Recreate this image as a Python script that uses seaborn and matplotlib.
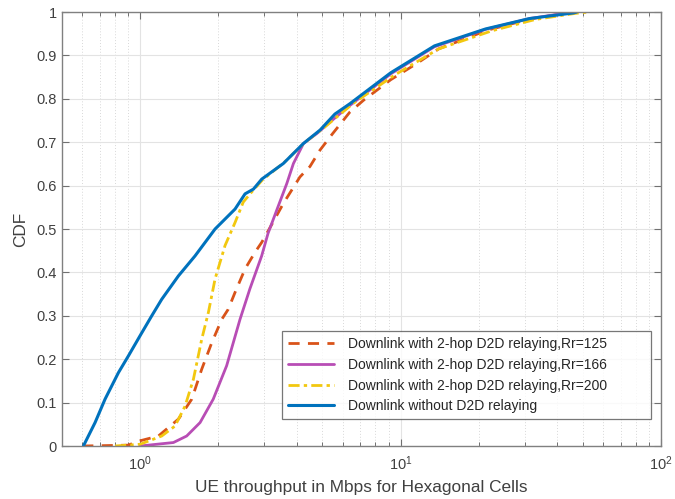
import matplotlib
matplotlib.use("Agg")
import matplotlib.pyplot as plt
from matplotlib.ticker import LogLocator, FixedLocator, NullFormatter
import numpy as np
import pandas as pd
import seaborn as sns

# Empirical CDF of UE throughput (Mbps) for each relaying configuration
rr125_mbps = [0.60, 0.75, 0.90, 1.00, 1.176, 1.404, 1.58, 1.725, 1.885, 2.06, 2.18, 2.316, 2.53,
              2.76, 2.93, 3.10, 3.55, 4.11, 4.49, 4.91, 5.44, 6.40, 7.22, 9.17, 11.65, 14.0, 21.5,
              31.5, 46.0]
rr125_cdf = [0.000, 0.001, 0.002, 0.012, 0.023, 0.062, 0.108, 0.177, 0.238, 0.292, 0.315, 0.354, 0.408,
             0.446, 0.469, 0.495, 0.559, 0.620, 0.644, 0.682, 0.717, 0.770, 0.797, 0.844, 0.883, 0.915,
             0.958, 0.984, 1.000]

rr166_mbps = [1.00, 1.343, 1.51, 1.70, 1.91, 2.15, 2.42, 2.64, 2.93, 3.10, 3.35, 3.66, 3.88,
              4.24, 4.77, 5.50, 6.40, 9.20, 13.5, 21.2, 31.3, 46.0]
rr166_cdf = [0.000, 0.008, 0.023, 0.054, 0.108, 0.185, 0.292, 0.362, 0.438, 0.490, 0.544, 0.605, 0.651,
             0.697, 0.720, 0.752, 0.785, 0.858, 0.920, 0.960, 0.985, 1.000]

rr200_mbps = [0.802, 1.00, 1.211, 1.362, 1.489, 1.603, 1.725, 1.83, 1.941, 2.12, 2.316, 2.49, 2.68,
              2.95, 3.60, 4.30, 5.00, 6.60, 9.50, 14.0, 22.5, 33.0, 47.0, 53.0]
rr200_cdf = [0.000, 0.004, 0.023, 0.046, 0.092, 0.154, 0.246, 0.308, 0.385, 0.462, 0.515, 0.562, 0.585,
             0.613, 0.655, 0.700, 0.730, 0.790, 0.855, 0.915, 0.957, 0.983, 0.997, 1.000]

no_relay_mbps = [0.606, 0.672, 0.734, 0.826, 0.903, 1.00, 1.109, 1.211, 1.404, 1.626, 1.941, 2.316,
                 2.53, 2.725, 2.933, 3.549, 4.236, 4.91, 5.60, 6.40, 9.17, 13.5, 21.2, 31.3, 46.2, 47.5]
no_relay_cdf = [0.000, 0.054, 0.108, 0.169, 0.208, 0.254, 0.300, 0.338, 0.392, 0.438, 0.500, 0.546,
                0.581, 0.592, 0.615, 0.651, 0.697, 0.728, 0.765, 0.789, 0.860, 0.922, 0.961, 0.985,
                0.998, 1.000]

series_labels = ["Downlink with 2-hop D2D relaying,Rr=125",
                 "Downlink with 2-hop D2D relaying,Rr=166",
                 "Downlink with 2-hop D2D relaying,Rr=200",
                 "Downlink without D2D relaying"]

y_ticks = [0, 0.1, 0.2, 0.3, 0.4, 0.5, 0.6, 0.7, 0.8, 0.9, 1.0]
y_tick_labels = ["0", "0.1", "0.2", "0.3", "0.4", "0.5", "0.6", "0.7", "0.8", "0.9", "1"]

sns.set_style("ticks")
plt.rcParams["font.family"] = ["Liberation Sans", "DejaVu Sans"]
plt.rcParams["mathtext.fontset"] = "custom"
plt.rcParams["mathtext.rm"] = "Liberation Sans"
plt.rcParams["mathtext.it"] = "Liberation Sans:italic"

text_color = "#404040"

fig = plt.figure(figsize=(6.75, 4.99), dpi=100)
ax = fig.add_axes([0.0913, 0.1062, 0.888, 0.8697])

styles = [
    dict(color="#D95319", linestyle=(0, (4, 3)), linewidth=2.0),
    dict(color="#B84DB5", linestyle="-", linewidth=2.0),
    dict(color="#F2C80F", linestyle=(0, (4, 1.5, 1.2, 1.5)), linewidth=2.0),
    dict(color="#0072BD", linestyle="-", linewidth=2.2),
]
data = [(rr125_mbps, rr125_cdf), (rr166_mbps, rr166_cdf),
        (rr200_mbps, rr200_cdf), (no_relay_mbps, no_relay_cdf)]

for (xs, ys), lab, st in zip(data, series_labels, styles):
    df = pd.DataFrame({"throughput": xs, "cdf": ys})
    sns.lineplot(data=df, x="throughput", y="cdf", ax=ax, label=lab,
                 estimator=None, sort=False, **st)

ax.set_xscale("log")
ax.set_xlim(0.5, 100)
ax.set_ylim(0, 1)
ax.xaxis.set_major_locator(LogLocator(base=10, numticks=10))
ax.xaxis.set_minor_locator(LogLocator(base=10, subs=np.arange(2, 10), numticks=20))
ax.xaxis.set_minor_formatter(NullFormatter())
ax.yaxis.set_major_locator(FixedLocator(y_ticks))
ax.set_yticklabels(y_tick_labels)

ax.grid(True, which="major", color="#e3e3e3", linewidth=0.8, linestyle="-")
ax.grid(True, which="minor", axis="x", color="#d8d8d8", linewidth=0.7, linestyle=(0, (1, 2)))
ax.set_axisbelow(True)

ax.tick_params(which="both", direction="in", top=True, right=True, colors="#707070",
               labelcolor=text_color, labelsize=10.5)
ax.tick_params(which="major", length=5, width=0.8)
ax.tick_params(which="minor", length=3, width=0.7)
ax.tick_params(axis="x", which="major", pad=6)
for sp in ax.spines.values():
    sp.set_color("#808080")
    sp.set_linewidth(1.0)

ax.set_xlabel("UE throughput in Mbps for Hexagonal Cells", fontsize=12.4, color=text_color, labelpad=5)
ax.set_ylabel("CDF", fontsize=12.4, color=text_color, labelpad=6)

leg = ax.legend(loc="lower left", bbox_to_anchor=(0.368, 0.062, 0.616, 0.2), mode="expand",
                borderaxespad=0, fancybox=False, frameon=True, fontsize=10,
                handlelength=3.3, labelspacing=0.48, borderpad=0.42, handletextpad=1.0)
leg.get_frame().set_edgecolor("#555555")
leg.get_frame().set_linewidth(0.9)
for t in leg.get_texts():
    t.set_color("#262626")

fig.savefig("out.png", dpi=100)
